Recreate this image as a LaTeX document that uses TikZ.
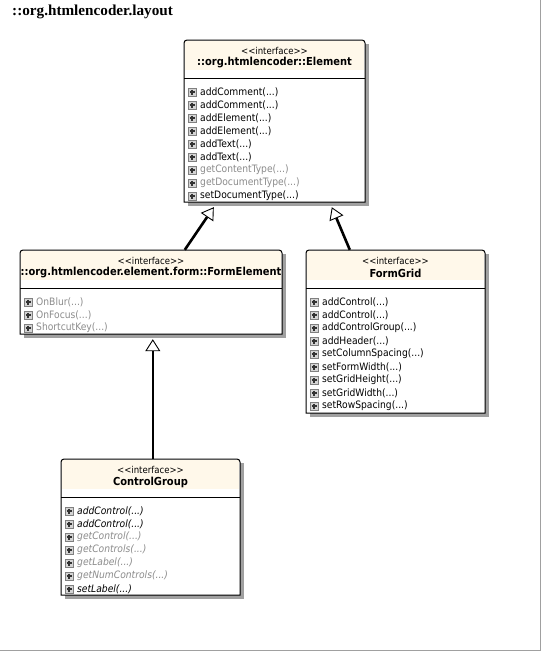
\documentclass[tikz,border=0pt]{standalone}
\usepackage{fontspec}
\newfontfamily\umlfont{DejaVu Sans Condensed}
\newfontfamily\titlefont{Liberation Serif}
\usetikzlibrary{arrows.meta,fit,calc}
\definecolor{hdr}{RGB}{255,248,234}
\definecolor{shd}{RGB}{160,160,160}
\definecolor{dim}{RGB}{140,140,140}
\definecolor{icfill}{RGB}{212,212,212}
\definecolor{icline}{RGB}{128,128,128}
\tikzset{
  stereo/.style={font=\umlfont\fontsize{9.5}{10}\selectfont, inner sep=0},
  cname/.style={font=\umlfont\bfseries\fontsize{11}{12}\selectfont, inner sep=0},
  optext/.style={font=\umlfont\fontsize{10.2}{11}\selectfont, inner sep=0, anchor=west},
  dimmed/.style={text=dim},
  ital/.style={font=\umlfont\itshape\fontsize{10.2}{11}\selectfont},
  gen/.style={line width=2.6pt, -{Triangle[open, fill=white, length=12pt, width=15pt, line width=0.9pt]}},
  titlestyle/.style={font=\titlefont\bfseries\fontsize{15.2}{17}\selectfont, inner sep=0, anchor=west},
}
\newcommand{\umlclass}[6]{%
  \fill[shd] (#2+4,#3+4) rectangle (#4+4,#5+4);
  \fill[white] (#2,#3) rectangle (#4,#5);
  \fill[hdr] (#2+1,#3+1) rectangle (#4-1,#3+30);
  \draw[line width=1pt] (#2,#3+38) -- (#4,#3+38);
  \draw[line width=1pt] (#2,#5) [rounded corners=3pt] -- (#2,#3) -- (#4,#3) [sharp corners] -- (#4,#5) -- cycle;
  \node[fit={(#2,#3) (#4,#5)}, inner sep=0] (#1) {};
  \node[stereo] (#1s) at ({(#2+#4)/2},#3+11) {<\kern0pt<interface>\kern0pt>};
  \node[cname] (#1n) at ({(#2+#4)/2},#3+23) {#6};
}
\newcommand{\op}[5]{%
  \filldraw[fill=icfill, draw=icline, line width=0.8pt] (#2+4,#3-4) rectangle (#2+12,#3+4);
  \draw[line width=1.1pt, black!80] (#2+5.5,#3) -- (#2+10.5,#3) (#2+8,#3-2.5) -- (#2+8,#3+2.5);
  \node[optext,#4] (#1) at (#2+16,#3) {#5};
}
\begin{document}
\begin{tikzpicture}[x=1pt,y=-1pt]
\useasboundingbox (0,0) rectangle (541,651);
\draw[shd, line width=1pt] (540.5,0) -- (540.5,650.5) -- (0,650.5);
\node[titlestyle] (title) at (12,12) {::org.htmlencoder.layout};

% Element
\umlclass{el}{184}{40}{365}{202}{::org.htmlencoder::Element}
\op{el1}{184}{92}{}{addComment(...)}
\op{el2}{184}{105}{}{addComment(...)}
\op{el3}{184}{118}{}{addElement(...)}
\op{el4}{184}{131}{}{addElement(...)}
\op{el5}{184}{144}{}{addText(...)}
\op{el6}{184}{157}{}{addText(...)}
\op{el7}{184}{170}{dimmed}{getContentType(...)}
\op{el8}{184}{183}{dimmed}{getDocumentType(...)}
\op{el9}{184}{196}{}{setDocumentType(...)}

% FormElement
\umlclass{fe}{20}{250}{282}{334}{::org.htmlencoder.element.form::FormElement}
\op{fe1}{20}{302}{dimmed}{OnBlur(...)}
\op{fe2}{20}{315}{dimmed}{OnFocus(...)}
\op{fe3}{20}{328}{dimmed}{ShortcutKey(...)}

% FormGrid
\umlclass{fg}{306}{250}{485}{413}{FormGrid}
\op{fg1}{306}{302}{}{addControl(...)}
\op{fg2}{306}{315}{}{addControl(...)}
\op{fg3}{306}{328}{}{addControlGroup(...)}
\op{fg4}{306}{341}{}{addHeader(...)}
\op{fg5}{306}{354}{}{setColumnSpacing(...)}
\op{fg6}{306}{367}{}{setFormWidth(...)}
\op{fg7}{306}{380}{}{setGridHeight(...)}
\op{fg8}{306}{393}{}{setGridWidth(...)}
\op{fg9}{306}{406}{}{setRowSpacing(...)}

% ControlGroup
\umlclass{cg}{61}{459}{240}{595}{ControlGroup}
\op{cg1}{61}{511}{ital}{addControl(...)}
\op{cg2}{61}{524}{ital}{addControl(...)}
\op{cg3}{61}{537}{ital,dimmed}{getControl(...)}
\op{cg4}{61}{550}{ital,dimmed}{getControls(...)}
\op{cg5}{61}{563}{ital,dimmed}{getLabel(...)}
\op{cg6}{61}{576}{ital,dimmed}{getNumControls(...)}
\op{cg7}{61}{589}{ital}{setLabel(...)}

% generalizations
\draw[gen] ([xshift=165pt]fe.north west) -- ([xshift=30pt,yshift=-5pt]el.south west);
\draw[gen] ([xshift=44pt]fg.north west) -- ([xshift=148pt,yshift=-5pt]el.south west);
\draw[gen] ([xshift=92pt]cg.north west) -- ([xshift=133pt,yshift=-5pt]fe.south west);
\end{tikzpicture}
\end{document}
